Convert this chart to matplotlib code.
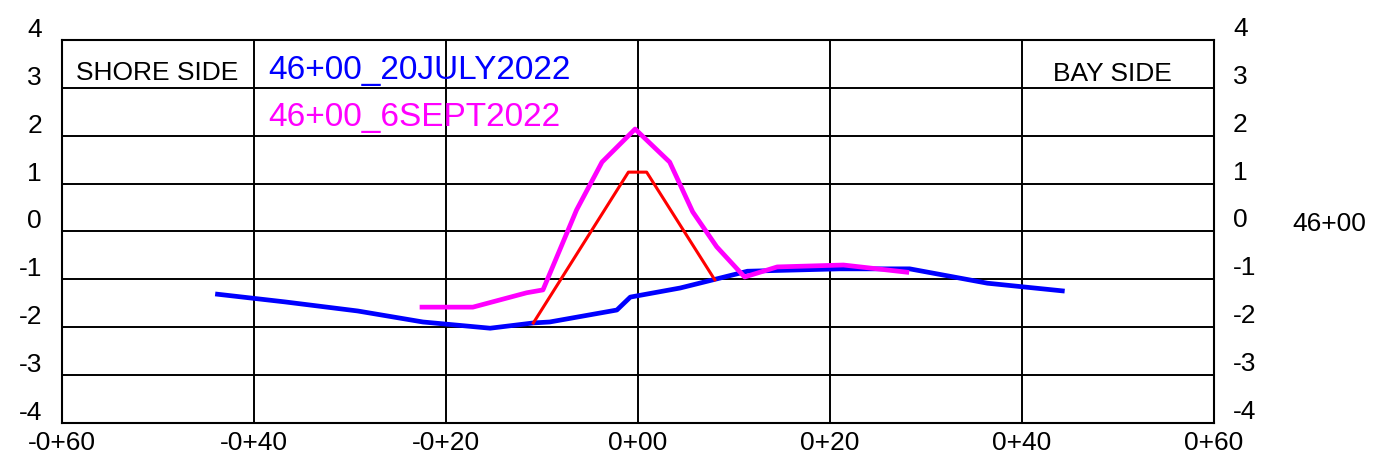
import matplotlib.pyplot as plt
from matplotlib.transforms import offset_copy, blended_transform_factory

plt.rcParams['font.family'] = ['Liberation Sans', 'DejaVu Sans']

# Datos de los perfiles (estación, elevación)
x_jul = [-43.8, -36.8, -29.2, -22.4, -15.4, -10.9, -9.2, -2.2, -0.8, 4.4, 7.8, 11.4, 21.0, 28.3, 36.4, 44.2]
y_jul = [-1.31, -1.47, -1.66, -1.89, -2.02, -1.91, -1.89, -1.64, -1.37, -1.18, -1.01, -0.83, -0.78, -0.78, -1.08, -1.24]

x_sep = [-22.5, -17.2, -11.6, -9.9, -6.4, -3.75, -0.3, 3.3, 5.7, 8.2, 11.1, 14.5, 21.4, 28.0]
y_sep = [-1.58, -1.58, -1.28, -1.22, 0.45, 1.45, 2.14, 1.45, 0.41, -0.32, -0.95, -0.74, -0.70, -0.85]

x_red = [-10.9, -1.0, 0.9, 8.0]
y_red = [-1.91, 1.24, 1.24, -1.01]

x_ticks = [-60, -40, -20, 0, 20, 40, 60]
x_labels = ['-0+60', '-0+40', '-0+20', '0+00', '0+20', '0+40', '0+60']
y_ticks = [4, 3, 2, 1, 0, -1, -2, -3, -4]

fig = plt.figure(figsize=(13.88, 4.76), dpi=100)
ax = fig.add_axes([62 / 1388, 53 / 476, 1152 / 1388, 383 / 476])

ax.plot(x_jul, y_jul, color='#0000ff', linewidth=3.4, zorder=3)
ax.plot(x_red, y_red, color='#ff0000', linewidth=2.2, zorder=4)
ax.plot(x_sep, y_sep, color='#ff00ff', linewidth=3.4, zorder=5)

ax.set_xlim(-60, 60)
ax.set_ylim(-4, 4)
ax.set_xticks(x_ticks)
ax.set_xticklabels(x_labels, fontsize=19)
ax.set_yticks(y_ticks)
ax.set_yticklabels([])
ax.tick_params(length=0, pad=6)
ax.grid(True, color='black', linewidth=1.4)
for s in ax.spines.values():
    s.set_linewidth(1.5)

# Etiquetas del eje Y (desplazadas hacia arriba, como en el original)
left_tr = offset_copy(blended_transform_factory(ax.transAxes, ax.transData), fig=fig, x=-20, y=3, units='dots')
right_tr = offset_copy(blended_transform_factory(ax.transAxes, ax.transData), fig=fig, x=19, y=4, units='dots')
for v in y_ticks:
    ax.text(0, v, str(v), transform=left_tr, ha='right', va='baseline', fontsize=19)
    ax.text(1, v, str(v), transform=right_tr, ha='left', va='baseline', fontsize=19)

ax.text(1 + 78 / 1152, 0, '46+00', transform=blended_transform_factory(ax.transAxes, ax.transData),
        ha='left', va='baseline', fontsize=19, clip_on=False)

ax.text(14 / 1152, 3.165, 'SHORE SIDE', fontsize=19, va='baseline',
        transform=blended_transform_factory(ax.transAxes, ax.transData))
ax.text(1110 / 1152, 3.145, 'BAY SIDE', fontsize=19, va='baseline', ha='right',
        transform=blended_transform_factory(ax.transAxes, ax.transData))
ax.text(206 / 1152, 3.185, '46+00_20JULY2022', fontsize=24, color='#0000ff', va='baseline',
        transform=blended_transform_factory(ax.transAxes, ax.transData))
ax.text(206 / 1152, 2.20, '46+00_6SEPT2022', fontsize=24, color='#ff00ff', va='baseline',
        transform=blended_transform_factory(ax.transAxes, ax.transData))

plt.savefig('out.png', dpi=100)
